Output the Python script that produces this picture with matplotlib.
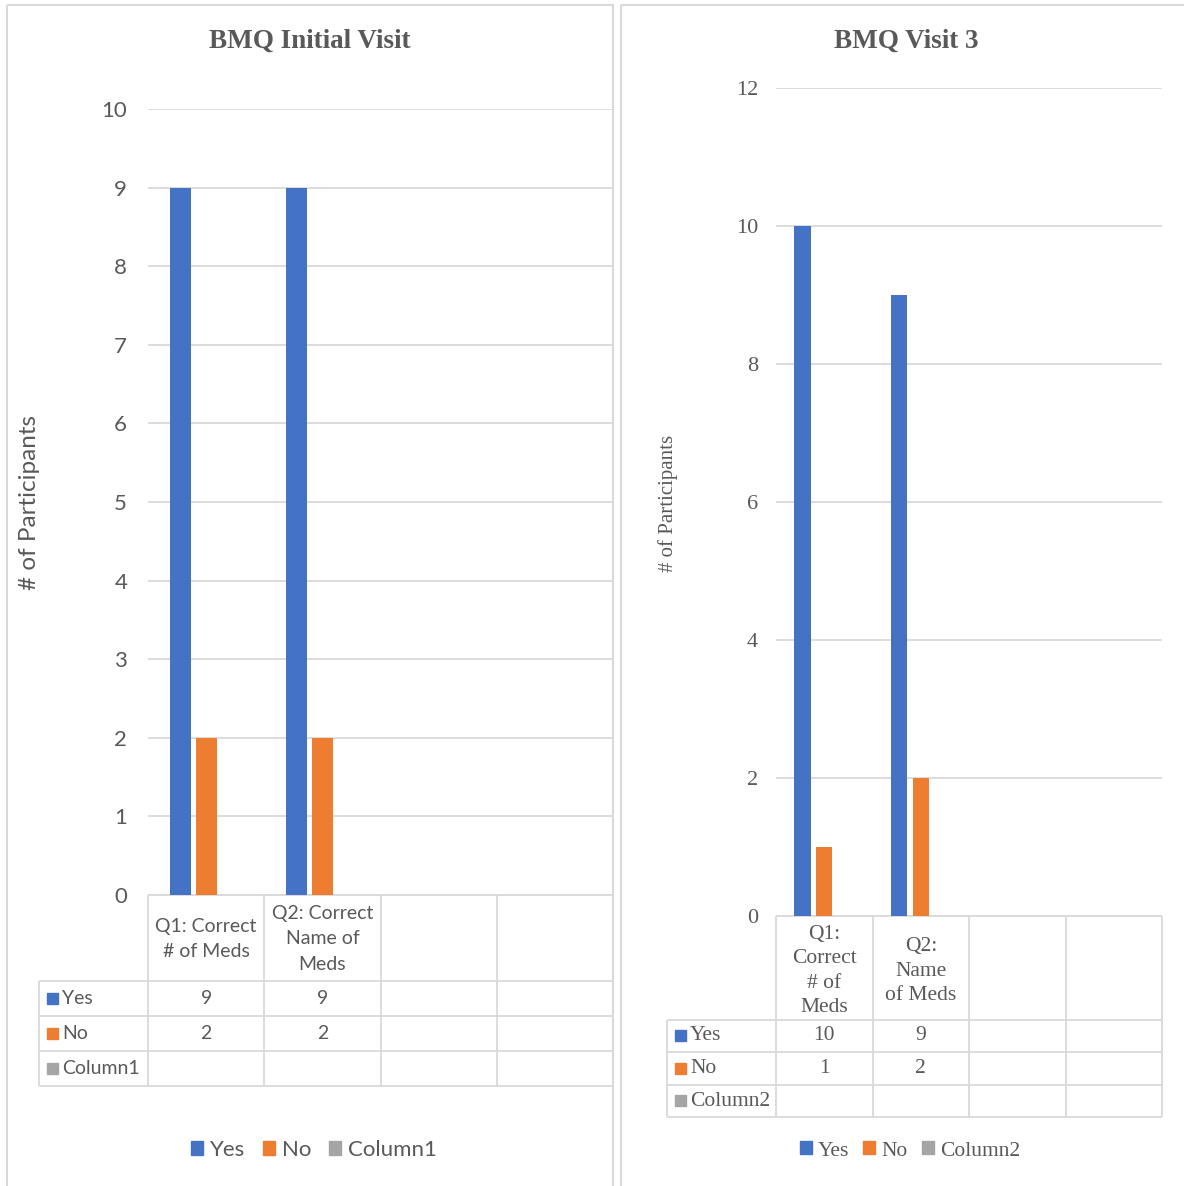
import matplotlib
matplotlib.use("Agg")
import matplotlib.pyplot as plt
from matplotlib.patches import Rectangle, Patch

# survey answers per question
series_names = ["Yes", "No"]
cats_initial = ["Q1: Correct\n# of Meds", "Q2: Correct\nName of\nMeds"]
yes_initial = [9, 9]
no_initial = [2, 2]
empty_initial = "Column1"

cats_v3 = ["Q1:\nCorrect\n# of\nMeds", "Q2:\nName\nof Meds"]
yes_v3 = [10, 9]
no_v3 = [1, 2]
empty_v3 = "Column2"

BLUE = "#4472C4"
ORANGE = "#ED7D31"
GRAY = "#A5A5A5"
TXT = "#595959"
LINE = "#D9D9D9"

W, H = 1184, 1186
fig = plt.figure(figsize=(W / 100, H / 100), dpi=100)
fig.patch.set_facecolor("white")

# pixel-space layer for frames and tables
bg = fig.add_axes([0, 0, 1, 1])
bg.set_xlim(0, W)
bg.set_ylim(H, 0)
bg.axis("off")

def hline(y, x0, x1):
    bg.plot([x0, x1], [y, y], color=LINE, lw=1.3, solid_capstyle="butt")

def vline(x, y0, y1):
    bg.plot([x, x], [y0, y1], color=LINE, lw=1.3, solid_capstyle="butt")


def panel(g, cats, yes, no, empty_name, ymax, ystep, font, title):
    x0, x1, ytop, ybot = g["plot"]
    ax = fig.add_axes([x0 / W, 1 - ybot / H, (x1 - x0) / W, (ybot - ytop) / H])
    ncol = 4
    ax.set_xlim(0, ncol)
    ax.set_ylim(0, ymax)
    pos = [i + 0.5 for i in range(len(cats))]
    slot, bw = g["slot"], g["bw"]
    ax.bar([p - slot for p in pos], yes, width=bw, color=BLUE, zorder=3)
    ax.bar(pos, no, width=bw, color=ORANGE, zorder=3)
    ax.set_yticks(range(0, ymax + 1, ystep))
    ax.set_xticks([])
    ax.grid(axis="y", color=LINE, lw=1.3, zorder=0)
    ax.tick_params(axis="y", length=0, pad=g["pad"], labelsize=g["tick_fs"],
                   labelcolor=TXT)
    for lab in ax.get_yticklabels():
        lab.set_fontfamily(font)
    for s in ax.spines.values():
        s.set_visible(False)
    ax.patch.set_alpha(0)

    # title and y label
    bg.text(g["title_x"], 41, title, ha="center", va="center", fontsize=19.5,
            fontweight="bold", color=TXT, family="Liberation Serif")
    bg.text(g["ylab_x"], 503, "# of Participants", rotation=90, ha="center",
            va="center", fontsize=g["ylab_fs"], color=TXT, family=font)

    # data table
    colw = (x1 - x0) / ncol
    rows = g["rows"]  # header bottom, then row bottoms
    lab_x = g["lab_x"]
    hline(ybot, x0, x1)
    for y in rows:
        hline(y, lab_x, x1)
    for k in range(ncol + 1):
        vline(x0 + k * colw, ybot, rows[-1])
    vline(lab_x, rows[0], rows[-1])

    for i, c in enumerate(cats):
        bg.text(x0 + (i + 0.5) * colw, (ybot + rows[0]) / 2 + g["hdr_dy"], c,
                ha="center", va="center", fontsize=g["cell_fs"], color=TXT,
                family=font, linespacing=g["ls"])
    names = series_names + [empty_name]
    colors = [BLUE, ORANGE, GRAY]
    values = [yes, no, None]
    for r in range(3):
        yc = (rows[r] + rows[r + 1]) / 2
        bg.add_patch(Rectangle((lab_x + 8, yc - 6), 11, 11, color=colors[r]))
        bg.text(lab_x + 23, yc, names[r], ha="left", va="center",
                fontsize=g["cell_fs"], color=TXT, family=font)
        if values[r] is None:
            continue
        for i, v in enumerate(values[r]):
            bg.text(x0 + (i + 0.5) * colw, yc, str(v), ha="center", va="center",
                    fontsize=g["cell_fs"], color=TXT, family=font)

    # legend
    handles = [Patch(color=c) for c in colors]
    leg = fig.legend(handles, names, loc="center",
                     bbox_to_anchor=(g["leg_x"] / W, 1 - g["leg_y"] / H),
                     ncol=3, frameon=False, handlelength=0.55, handleheight=0.55,
                     handletextpad=0.3, columnspacing=g["colsp"],
                     prop={"family": font, "size": g["leg_fs"]})
    for t in leg.get_texts():
        t.set_color(TXT)
    return ax


# panel frames
bg.add_patch(Rectangle((7, 5), 606, 1200, fill=False, ec=LINE, lw=1.5))
bg.add_patch(Rectangle((621, 5), 600, 1200, fill=False, ec=LINE, lw=1.5))

left = dict(plot=(148, 613, 109, 895), slot=0.22, bw=0.18, pad=15, tick_fs=16,
            title_x=310, ylab_x=30, ylab_fs=17.5, rows=[981, 1016, 1051, 1086],
            lab_x=39, cell_fs=14, ls=1.6, hdr_dy=1, leg_x=314, leg_y=1150,
            leg_fs=16, colsp=0.8)
right = dict(plot=(776, 1162, 88, 916), slot=0.225, bw=0.17, pad=13, tick_fs=16,
             title_x=906, ylab_x=668, ylab_fs=15, rows=[1020, 1052, 1085, 1117],
             lab_x=667, cell_fs=15.5, ls=1.39, hdr_dy=3, leg_x=910, leg_y=1151,
             leg_fs=15.5, colsp=0.65)

panel(left, cats_initial, yes_initial, no_initial, empty_initial, 10, 1,
      "Lato", "BMQ Initial Visit")
panel(right, cats_v3, yes_v3, no_v3, empty_v3, 12, 2,
      "Liberation Serif", "BMQ Visit 3")

fig.savefig("out.png", dpi=100, facecolor="white")
